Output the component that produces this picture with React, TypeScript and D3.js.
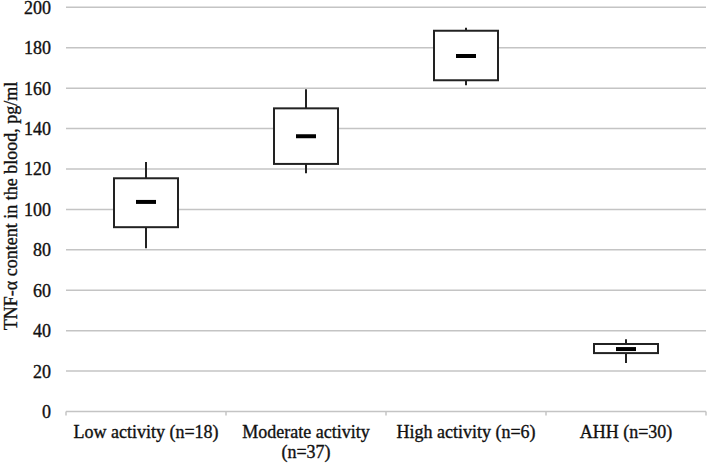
import React from "react";
import * as d3 from "d3";

const categories = ["Low activity (n=18)", "Moderate activity (n=37)", "High activity (n=6)", "AHH (n=30)"];
const labelLines = [["Low activity (n=18)"], ["Moderate activity", "(n=37)"], ["High activity (n=6)"], ["AHH (n=30)"]];
const whiskerLow = [80.8, 117.9, 161.4, 24.0];
const q1 = [91.2, 122.5, 163.9, 28.9];
const median = [103.7, 136.2, 175.9, 30.9];
const q3 = [115.4, 150.0, 188.4, 33.4];
const whiskerHigh = [123.4, 159.4, 189.9, 35.7];
const yTicks = [0, 20, 40, 60, 80, 100, 120, 140, 160, 180, 200];

const W = 708, H = 463;
const left = 66, right = 706, top = 7.3, bottom = 411.5;
const font = "'Liberation Serif', 'Times New Roman', serif";
const textStyle = { fontFamily: font, fontSize: 18, fill: "#111", stroke: "#111", strokeWidth: 0.35 };

export default function App() {
  const x = d3.scaleBand<string>().domain(categories).range([left, right]).padding(0);
  const y = d3.scaleLinear().domain([0, 200]).range([bottom, top]);
  const bw = x.bandwidth() * 0.4;
  const mw = 20;
  const boundaries = [...categories.map((c) => x(c) as number), right];
  return (
    <svg width={W} height={H} style={{ position: "absolute", left: 0, top: 0, background: "#fff" }}>
      {yTicks.map((t) => (
        <g key={t}>
          {t > 0 && <line x1={left} x2={right} y1={y(t)} y2={y(t)} stroke="#c4c4c4" strokeWidth={1.5} />}
          <text x={51} y={y(t) + 6.5} textAnchor="end" style={textStyle}>{t}</text>
        </g>
      ))}
      <line x1={left} x2={right} y1={bottom} y2={bottom} stroke="#c4c4c4" strokeWidth={1.5} />
      {boundaries.map((b, i) => (
        <line key={i} x1={b} x2={b} y1={bottom} y2={bottom + 4} stroke="#c4c4c4" strokeWidth={1.5} />
      ))}
      {categories.map((c, i) => {
        const cx = (x(c) as number) + x.bandwidth() / 2;
        return (
          <g key={c}>
            <line x1={cx} x2={cx} y1={y(whiskerHigh[i])} y2={y(q3[i])} stroke="#222" strokeWidth={2} />
            <line x1={cx} x2={cx} y1={y(q1[i])} y2={y(whiskerLow[i])} stroke="#222" strokeWidth={2} />
            <rect x={cx - bw / 2} y={y(q3[i])} width={bw} height={y(q1[i]) - y(q3[i])} fill="#fff" stroke="#222" strokeWidth={2} />
            <line x1={cx - mw / 2} x2={cx + mw / 2} y1={y(median[i])} y2={y(median[i])} stroke="#000" strokeWidth={4} />
            <text x={cx} y={438} textAnchor="middle" style={textStyle}>
              {labelLines[i].map((l, j) => (
                <tspan key={j} x={cx} dy={j === 0 ? 0 : 20}>{l}</tspan>
              ))}
            </text>
          </g>
        );
      })}
      <text transform={`translate(17,206) rotate(-90)`} textAnchor="middle" style={textStyle}>
        TNF-α content in the blood, pg/ml
      </text>
    </svg>
  );
}
